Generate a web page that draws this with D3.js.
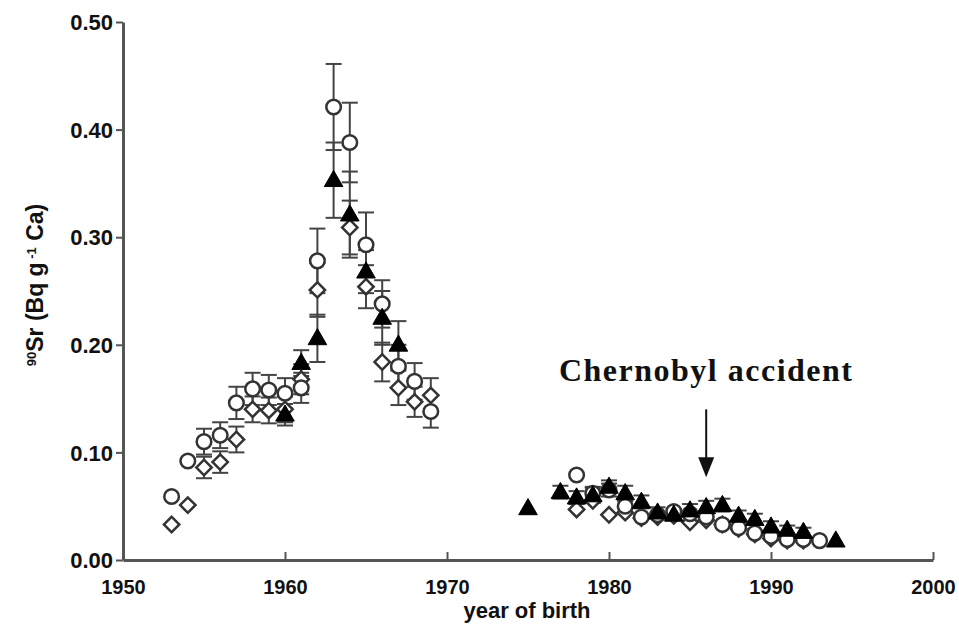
<!DOCTYPE html>
<html>
<head>
<meta charset="utf-8">
<script src="https://cdn.jsdelivr.net/npm/d3@7"></script>
<style>
  body { margin: 0; background: #fff; }
  svg { display: block; }
  .tick text { font-family: "Liberation Sans", Arial, sans-serif; font-weight: bold; }
</style>
</head>
<body>
<div id="chart"></div>
<script>
// open circles
const circleYears  = [1953,1954,1955,1956,1957,1958,1959,1960,1961,1962,1963,1964,1965,1966,1967,1968,1969,
                      1978,1979,1980,1981,1982,1983,1984,1985,1986,1987,1988,1989,1990,1991,1992,1993];
const circleValues = [0.059,0.092,0.110,0.116,0.146,0.159,0.158,0.155,0.160,0.278,0.421,0.388,0.293,0.238,0.180,0.166,0.138,
                      0.079,0.062,0.065,0.050,0.040,0.042,0.045,0.043,0.040,0.033,0.030,0.025,0.022,0.019,0.019,0.018];
const circleErrors = [0,0,0.012,0.012,0.015,0.015,0.014,0.014,0.014,0.030,0.040,0.037,0.030,0.022,0.020,0.017,0.015,
                      0,0.006,0.006,0.005,0,0,0,0,0,0,0,0,0,0,0,0];
// open diamonds
const diamondYears  = [1953,1954,1955,1956,1957,1958,1959,1960,1961,1962,1964,1965,1966,1967,1968,1969,
                       1978,1979,1980,1981,1982,1983,1984,1985,1986,1987,1988,1989,1990,1991,1992];
const diamondValues = [0.033,0.051,0.086,0.091,0.112,0.140,0.139,0.140,0.168,0.251,0.309,0.254,0.184,0.160,0.147,0.153,
                       0.047,0.055,0.042,0.044,0.039,0.040,0.041,0.035,0.037,0.033,0.029,0.024,0.020,0.018,0.018];
const diamondErrors = [0,0,0.010,0.010,0.012,0.012,0.012,0.012,0.014,0.025,0.025,0.020,0.018,0.016,0.014,0.016,
                       0,0,0,0,0,0,0,0,0,0,0,0,0,0,0];
// filled triangles
const triangleYears  = [1960,1961,1962,1963,1964,1965,1966,1967,
                        1975,1977,1978,1979,1980,1981,1982,1983,1984,1985,1986,1987,1988,1989,1990,1991,1992,1994];
const triangleValues = [0.135,0.183,0.206,0.353,0.321,0.268,0.225,0.200,
                        0.048,0.063,0.058,0.060,0.068,0.062,0.054,0.044,0.042,0.046,0.049,0.051,0.041,0.038,0.031,0.028,0.026,0.018];
const triangleErrors = [0.010,0.012,0.022,0.035,0.040,0.020,0.025,0.022,
                        0,0.006,0.006,0.007,0.006,0.007,0.006,0.005,0.005,0.006,0.006,0.006,0.005,0.005,0.005,0.004,0.004,0];

const xTicks = [1950,1960,1970,1980,1990,2000];
const yTicks = [0,0.1,0.2,0.3,0.4,0.5];
const annotationYear = 1986, arrowFrom = 0.140, arrowTo = 0.077, labelValue = 0.166;

const W = 959, H = 624;
const x = d3.scaleLinear().domain([1950,2000]).range([123,933]);
const y = d3.scaleLinear().domain([0,0.5]).range([560,22]);

const svg = d3.select('#chart').append('svg').attr('width',W).attr('height',H);

function series(years, values, errors){
    return years.map((yr,i) => ({year: yr, value: values[i], err: errors[i]}));
}
const circles = series(circleYears, circleValues, circleErrors);
const diamonds = series(diamondYears, diamondValues, diamondErrors);
const triangles = series(triangleYears, triangleValues, triangleErrors);

// error bars first
function errorBars(data){
    const g = svg.append('g').attr('stroke','#444').attr('stroke-width',2).attr('fill','none');
    data.filter(d => d.err > 0).forEach(d => {
        const cx = x(d.year);
        g.append('line').attr('x1',cx).attr('x2',cx).attr('y1',y(d.value+d.err)).attr('y2',y(d.value-d.err));
        [d.value+d.err, d.value-d.err].forEach(v => {
            g.append('line').attr('x1',cx-8).attr('x2',cx+8).attr('y1',y(v)).attr('y2',y(v));
        });
    });
}
errorBars(circles);
errorBars(diamonds);
errorBars(triangles);

// markers
svg.append('g').selectAll('path').data(diamonds).join('path')
    .attr('d', d3.symbol(d3.symbolSquare, 118))
    .attr('transform', d => 'translate(' + x(d.year) + ',' + y(d.value) + ') rotate(45)')
    .attr('fill','#fff').attr('stroke','#333').attr('stroke-width',2.5);

svg.append('g').selectAll('circle').data(circles).join('circle')
    .attr('cx', d => x(d.year)).attr('cy', d => y(d.value)).attr('r',7.3)
    .attr('fill','#fff').attr('stroke','#333').attr('stroke-width',2.5);

svg.append('g').selectAll('path').data(triangles).join('path')
    .attr('d', d3.symbol(d3.symbolTriangle, 150))
    .attr('transform', d => 'translate(' + x(d.year) + ',' + (y(d.value)+1) + ')')
    .attr('fill','#000').attr('stroke','#000').attr('stroke-width',1);

// axes
const xAxis = svg.append('g').attr('transform','translate(0,560)')
    .call(d3.axisBottom(x).tickValues(xTicks).tickFormat(d3.format('d')).tickSizeInner(-8).tickSizeOuter(0).tickPadding(20));
const yAxis = svg.append('g').attr('transform','translate(123,0)')
    .call(d3.axisLeft(y).tickValues(yTicks).tickFormat(d3.format('.2f')).tickSizeInner(7).tickSizeOuter(0).tickPadding(3));
[xAxis, yAxis].forEach(a => {
    a.select('.domain').attr('stroke','#555').attr('stroke-width',3);
    a.selectAll('.tick line').attr('stroke','#555').attr('stroke-width',2);
    a.selectAll('.tick text').attr('fill','#111').style('font-size','20px');
});
yAxis.selectAll('.tick text').attr('dy','0.35em').style('font-size','22px');

// axis titles
svg.append('text')
    .attr('x', 527).attr('y', 618)
    .attr('text-anchor','middle')
    .style('font-family','"Liberation Sans", Arial, sans-serif').style('font-weight','bold').style('font-size','22px')
    .attr('fill','#111')
    .text('year of birth');

const yl = svg.append('text')
    .attr('transform','translate(43,285) rotate(-90)')
    .attr('text-anchor','middle')
    .style('font-family','"Liberation Sans", Arial, sans-serif').style('font-weight','bold').style('font-size','23px')
    .attr('fill','#111');
yl.append('tspan').attr('baseline-shift','super').style('font-size','13px').text('90');
yl.append('tspan').text('Sr (Bq g');
yl.append('tspan').attr('baseline-shift','super').style('font-size','13px').text(' -1');
yl.append('tspan').text(' Ca)');

// Chernobyl annotation
const ax = x(annotationYear);
svg.append('line').attr('x1',ax).attr('x2',ax).attr('y1',y(arrowFrom)).attr('y2',y(arrowTo)-15)
    .attr('stroke','#111').attr('stroke-width',2);
svg.append('path')
    .attr('d', 'M' + (ax-8) + ',' + (y(arrowTo)-20) + 'L' + (ax+8) + ',' + (y(arrowTo)-20) + 'L' + ax + ',' + y(arrowTo) + 'Z')
    .attr('fill','#111');
svg.append('text')
    .attr('x', ax).attr('y', y(labelValue))
    .attr('text-anchor','middle')
    .style('font-family','"Liberation Serif", "Times New Roman", serif').style('font-weight','bold').style('font-size','32px')
    .style('letter-spacing','1.5px')
    .attr('fill','#111')
    .text('Chernobyl accident');
</script>
</body>
</html>
